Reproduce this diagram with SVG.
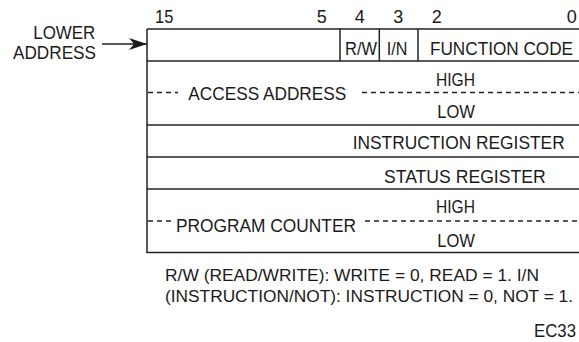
<svg xmlns="http://www.w3.org/2000/svg" width="579" height="342" viewBox="0 0 579 342">
<defs>
<style>
text{font-family:"Liberation Sans",Arial,sans-serif;font-size:18px;fill:#1a1a1a}
.nt{font-size:17.2px}
.ln{stroke:#222;stroke-width:1.5;fill:none}
.ds{stroke:#222;stroke-width:1.3;stroke-dasharray:5 4;fill:none}
.m{text-anchor:middle}
</style>
<marker id="ah" viewBox="0 0 18 12" refX="18" refY="6" markerWidth="18" markerHeight="12" markerUnits="userSpaceOnUse" orient="auto">
<path d="M0,0 L18,6 L0,12 L5,6 Z" fill="#1a1a1a"/>
</marker>
</defs>
<g id="bits">
<text x="155" y="22.5" textLength="18.3" lengthAdjust="spacingAndGlyphs">15</text>
<text x="321.7" y="22.5" class="m">5</text>
<text x="359.7" y="22.5" class="m">4</text>
<text x="398.3" y="22.5" class="m">3</text>
<text x="436.7" y="22.5" class="m">2</text>
<text x="571.7" y="22.5" class="m">0</text>
</g>
<g id="lower-address">
<text x="33.3" y="39.3" textLength="62" lengthAdjust="spacingAndGlyphs">LOWER</text>
<text x="13" y="59" textLength="83" lengthAdjust="spacingAndGlyphs">ADDRESS</text>
</g>
<g id="connectors">
<line x1="102" y1="44" x2="147" y2="44" class="ln" marker-end="url(#ah)"/>
</g>
<g id="frame">
<path class="ln" d="M147,29 H579 M147,29 V252.5 H579 M147,61 H579 M147,125 H579 M147,157 H579 M147,189 H579"/>
</g>
<g id="row-function">
<path class="ln" d="M340,29 V61 M379.3,29 V61 M418,29 V61"/>
<text x="345" y="54.5" textLength="32" lengthAdjust="spacingAndGlyphs">R/W</text>
<text x="386.7" y="54.5" textLength="20.6" lengthAdjust="spacingAndGlyphs">I/N</text>
<text x="430" y="54.5" textLength="143" lengthAdjust="spacingAndGlyphs">FUNCTION CODE</text>
</g>
<g id="row-access-address">
<line x1="148" y1="92.5" x2="178" y2="92.5" class="ds"/>
<line x1="362" y1="92.5" x2="579" y2="92.5" class="ds"/>
<text x="188.3" y="100" textLength="158" lengthAdjust="spacingAndGlyphs">ACCESS ADDRESS</text>
<text x="436" y="86" textLength="39" lengthAdjust="spacingAndGlyphs">HIGH</text>
<text x="437.3" y="117.7" textLength="37.7" lengthAdjust="spacingAndGlyphs">LOW</text>
</g>
<g id="row-instruction-register">
<text x="352.7" y="149.3" textLength="212" lengthAdjust="spacingAndGlyphs">INSTRUCTION REGISTER</text>
</g>
<g id="row-status-register">
<text x="384" y="182.7" textLength="161.7" lengthAdjust="spacingAndGlyphs">STATUS REGISTER</text>
</g>
<g id="row-program-counter">
<line x1="148" y1="221" x2="171" y2="221" class="ds"/>
<line x1="365" y1="221" x2="579" y2="221" class="ds"/>
<text x="176" y="232.3" textLength="180" lengthAdjust="spacingAndGlyphs">PROGRAM COUNTER</text>
<text x="436" y="213.3" textLength="39" lengthAdjust="spacingAndGlyphs">HIGH</text>
<text x="437.3" y="246.7" textLength="37.7" lengthAdjust="spacingAndGlyphs">LOW</text>
</g>
<g id="notes">
<text class="nt" x="165" y="281" textLength="374" lengthAdjust="spacingAndGlyphs">R/W (READ/WRITE): WRITE = 0, READ = 1. I/N</text>
<text class="nt" x="165" y="301.5" textLength="408" lengthAdjust="spacingAndGlyphs">(INSTRUCTION/NOT): INSTRUCTION = 0, NOT = 1.</text>
<text x="534" y="337" textLength="42" lengthAdjust="spacingAndGlyphs">EC33</text>
</g>
</svg>
